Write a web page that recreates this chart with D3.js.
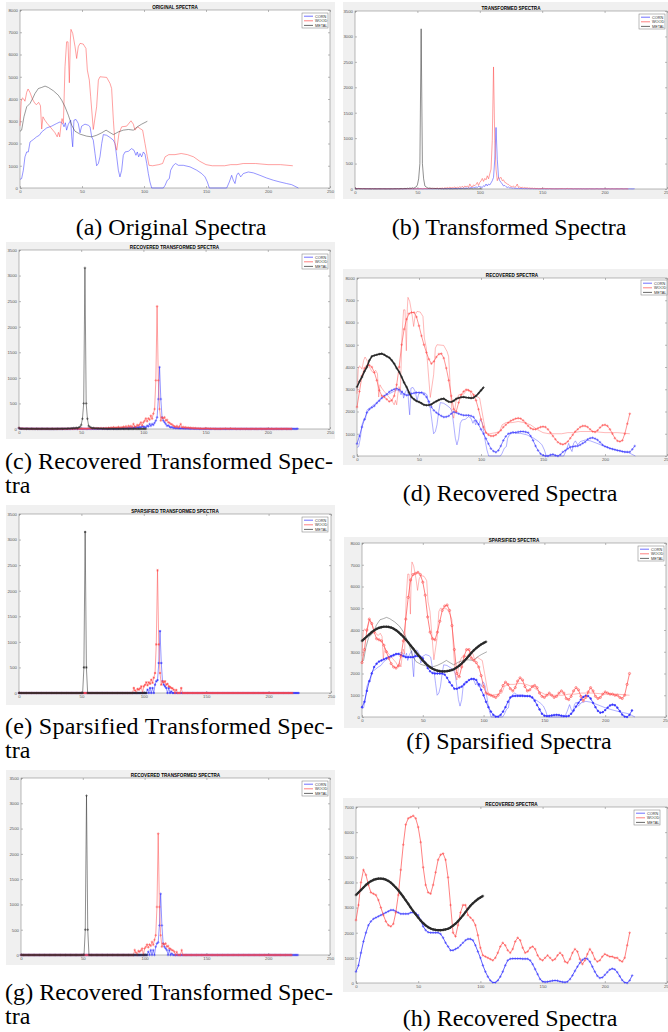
<!DOCTYPE html>
<html>
<head>
<meta charset="utf-8">
<script src="https://cdn.jsdelivr.net/npm/d3@7"></script>
<style>
  body { margin: 0; background: #fff; }
  svg { display: block; }
</style>
</head>
<body>
<div id="app"></div>
<script>
'use strict'

// ---- original spectra (irregular samples) ----
const origCornX = [0,1.3,2.7,4,5.4,6.7,8.1,10.8,13.4,15.6,17.5,21.5,25.5,29.6,32.3,34.4,35.5,36.6,37.6,39,
  40.9,41.7,42.5,43.5,45.2,47,48.4,49.7,52.4,55.1,56.5,57.8,59.1,60.5,61.8,63.2,64.5,65.9,67.2,69.9,
  72.6,75.3,76.6,78,79.3,80.6,82,83.3,84.7,87.4,90,91.9,93.5,94.6,95.7,96.8,98.1,99.5,100.8,102.2,
  103.5,104.8,106.2,115.6,117,118.8,120.4,121.5,123.7,125.5,127.7,131.7,137.1,142.5,146.5,149.2,151.1,152.7,166.7,168.8,
  170.7,172,173.4,174.7,176.1,178,180.1,184.1,188.2,193.5,198.9,204.3,209.7,215,219.1,221.8,224.5]
const origCornY = [390,420,800,1400,1620,1620,2070,2180,2300,2370,2520,2700,2780,2900,2970,2900,2750,2930,2600,2870,
  3050,2300,1850,3050,3080,2900,2480,2780,2870,2820,2750,2300,2150,1550,1000,1100,1400,2000,2400,2370,
  2270,2150,2000,1400,800,500,800,1470,1620,1650,1770,1700,1470,1620,1400,1550,1400,1620,1520,1100,
  650,270,0,0,120,350,420,800,1020,1100,1020,1020,950,800,650,500,270,0,0,270,
  570,350,200,570,680,500,650,720,680,570,450,350,270,200,150,75,0]

const origWoodX = [0,1,2,3,4,5.4,6.5,8,10,12,13.4,15,16.5,17.5,18.5,20,22,25,28,30,
  31,32,33,33.9,35,36.3,37.6,38.7,39.8,40.6,41.1,42.5,44.4,45.7,47,48.4,51,53.2,54.3,55.9,
  57,59.1,61.8,63.2,64.5,69.9,72.6,73.9,75.3,76.6,78,79.8,82,86,89.5,91.4,92.7,94.9,96.8,98.9,
  100.8,102.7,104,107,112,115,117,120,125,130,135,140,145,150,155,165,170,175,180,190,200,210,220]
const origWoodY = [2800,3900,4050,4000,3900,4300,4450,4300,4000,3800,3750,3850,3700,2650,3200,3050,2900,2700,2500,2300,
  2500,2300,2800,3120,2900,5450,6570,6570,4730,6650,7130,6950,6350,5820,6350,6500,6470,6270,5300,4850,
  4100,2630,3650,4850,5000,4970,4700,4470,3050,2000,1700,2450,2750,2780,3020,2870,2600,2750,2670,2600,
  2000,1400,1020,1000,1050,1100,1400,1500,1500,1550,1500,1400,1200,1050,1000,1000,1050,1050,1100,1100,1050,1050,1000]

const origMetalX = [0,1.3,3.2,5.4,8.1,10.2,12.1,14.8,17.5,20.2,22.8,26.9,30.9,33.6,36.3,39,41.7,44.4,48.4,53.8,
  57.8,61.8,65.9,69.4,72.6,75.3,79.3,83.3,87.4,91.4,94.6,98.1,102.7]
const origMetalY = [2550,2600,3200,3650,3800,4020,4250,4470,4520,4580,4520,4370,4170,3950,3650,3270,2820,2550,2420,2330,
  2300,2370,2480,2600,2490,2400,2520,2600,2630,2600,2750,2870,3000]

// ---- transformed spectra, one value per coefficient index ----
const cornT = [15,8,5,10,6,4,8,5,3,6, 5,4,6,3,5,4,3,5,4,3, 4,3,5,2,4,3,2,4,3,2, 3,5,2,4,3,2,5,3,2,4,
  3,2,4,6,3,5,4,2,6,3, 5,4,3,6,4,3,5,4,3,6, 4,5,3,6,4,7,5,4,8,5, 6,4,8,5,7,9,6,8,5,10,
  8,12,7,14,10,16,12,18,14,20, 15,25,18,30,22,35,28,40,30,50, 45,40,30,65,50,98,60,98,80,120,
  163,228,585,1210,585,228,163,130,98,60, 70,45,30,40,20,25,15,20,12,15, 10,14,8,12,7,10,6,9,5,8,
  6,5,7,4,6,3,5,4,3,5, 4,3,5,2,4,3,6,4,3,5, 3,4,2,5,3,4,2,3,5,3, 4,2,3,5,3,2,4,3,2,4,
  3,5,2,4,3,2,4,3,5,2, 3,4,2,3,5,3,2,4,3,2, 4,3,2,5,3,2,4,3,2,3, 4,2,3,5,3,2,4,3,2,3, 4,3,2,3,5]
const woodT = [20,10,6,12,5,8,4,10,6,5, 4,7,3,6,5,3,7,4,5,3, 5,3,6,4,3,5,4,6,3,4, 5,3,4,6,3,5,4,3,6,4,
  5,4,7,3,6,5,8,4,6,5, 7,5,9,6,4,8,10,6,12,8, 10,14,8,15,10,12,18,9,15,12, 20,10,25,15,30,18,35,20,30,25,
  40,20,35,28,45,30,55,25,60,40, 60,30,100,50,40,80,65,90,130,70, 130,160,208,150,208,180,260,200,300,390,
  950,2400,950,390,163,228,208,230,163,180, 130,120,98,90,65,50,40,60,30,50, 98,30,40,25,35,20,30,18,25,15,
  20,12,18,10,15,8,12,6,10,5, 15,8,12,5,10,6,8,4,6,3, 5,4,6,3,8,5,10,6,4,3, 12,6,8,4,6,3,5,4,3,5,
  3,4,2,5,3,4,2,3,5,3, 4,2,3,5,3,2,4,3,2,4, 3,5,2,4,3,2,4,3,5,2, 3,4,2,3,5,3,2,4,3,2]
const metalT = [20,8,6,5,4,6,3,5,4,3, 5,3,4,2,5,3,4,2,3,5, 3,4,2,5,3,2,4,3,2,5, 3,4,6,3,8,4,5,10,6,8,
  12,8,15,10,20,12,25,15,30,40, 80,200,500,3150,500,200,60,40,25,15, 20,10,15,8,12,6,10,5,8,4,
  6,3,5,4,3,5,2,4,3,2, 4,3,2,5,3,2,4,3,2,3, 4,2,3,5,3,2,4,3,2,3, 4,3,2]

// ---- sparsified coefficients (panels e and g) ----
const cornS = [0,0,0,0,0,0,0,0,0,0, 0,0,0,0,0,0,0,0,0,0, 0,0,0,0,0,0,0,0,0,0, 0,0,0,0,0,0,0,0,0,0,
  0,0,0,0,0,0,0,0,0,0, 0,0,0,0,0,0,0,0,0,0, 0,0,0,0,0,0,0,0,0,0, 0,0,0,0,0,0,0,0,0,0,
  0,0,0,0,0,0,0,0,0,0, 0,0,0,0,0,0,0,0,0,0, 0,0,0,65,0,98,0,98,0,163,
  228,250,585,1210,585,228,163,130,98,0, 98,0,30,0,0,0,0,0,0,0, 0,0,0,0,0,0,0,0,0,0,
  0,0,0,0,0,0,0,0,0,0, 0,0,0,0,0,0,0,0,0,0, 0,0,0,0,0,0,0,0,0,0, 0,0,0,0,0,0,0,0,0,0,
  0,0,0,0,0,0,0,0,0,0, 0,0,0,0,0,0,0,0,0,0, 0,0,0,0,0,0,0,0,0,0, 0,0,0,0,0,0,0,0,0,0, 0,0,0,0,0]
const woodS = [0,0,0,0,0,0,0,0,0,0, 0,0,0,0,0,0,0,0,0,0, 0,0,0,0,0,0,0,0,0,0, 0,0,0,0,0,0,0,0,0,0,
  0,0,0,0,0,0,0,0,0,0, 0,0,0,0,0,0,0,0,0,0, 0,0,0,0,0,0,0,0,0,0, 0,0,0,0,0,0,0,0,0,0,
  0,0,0,0,0,0,0,0,0,0, 0,0,100,50,0,80,65,90,130,0, 130,160,208,150,208,180,260,200,300,390,
  950,2400,950,390,163,228,208,230,163,180, 130,120,98,90,65,0,60,0,0,0, 98,0,0,0,0,0,0,0,0,0,
  0,0,0,0,0,0,0,0,0,0, 0,0,0,0,0,0,0,0,0,0, 0,0,0,0,0,0,0,0,0,0, 0,0,0,0,0,0,0,0,0,0,
  0,0,0,0,0,0,0,0,0,0, 0,0,0,0,0,0,0,0,0,0, 0,0,0,0,0,0,0,0,0,0, 0,0,0,0,0,0,0,0,0,0]
const metalS = [0,0,0,0,0,0,0,0,0,0, 0,0,0,0,0,0,0,0,0,0, 0,0,0,0,0,0,0,0,0,0, 0,0,0,0,0,0,0,0,0,0,
  0,0,0,0,0,0,0,0,0,0, 0,0,500,3150,500,0,0,0,0,0, 0,0,0,0,0,0,0,0,0,0,
  0,0,0,0,0,0,0,0,0,0, 0,0,0,0,0,0,0,0,0,0, 0,0,0,0,0,0,0,0,0,0, 0,0,0]

// ---- recovered spectra of panel d (every 2nd sample) ----
const cornD = [550,900,1300,1650,1950,2100,2180,2250,2380,2480, 2600,2700,2780,2880,2950,3000,3030,2980,2880,2780,
  2730,2750,2800,2830,2850,2850,2850,2780,2650,2450, 2200,2050,1950,1870,1800,1750,1760,1800,1900,1980,
  1950,1900,1860,1830,1830,1830,1800,1750,1580,1420, 1200,1000,780,550,330,220,170,250,450,700,
  880,1000,1030,1050,1060,1080,1100,1100,1080,1050, 900,700,450,250,100,30,0,0,50,75,
  30,0,60,180,250,330,400,420,440,450, 500,570,630,750,800,820,780,720,620,500,
  430,390,340,310,280,250,230,200,180,180, 180,300,450]
const woodD = [2200,2900,3600,3950,4050,4080,4000,3750,3400,2950, 2700,2650,2550,2450,2500,2700,3200,4000,5000,5700,
  6150,6400,6450,6450,6250,5850,5400,5000,4650,4350, 4150,4250,4450,4580,4600,4400,3950,3400,2700,2100,
  2000,2400,2750,2900,2980,2950,2900,2750,2500,2100, 1650,1300,1050,950,900,900,950,1050,1150,1300,
  1400,1500,1580,1630,1680,1700,1680,1600,1480,1350, 1250,1200,1200,1250,1300,1320,1300,1200,1050,900,
  750,620,550,520,560,650,800,950,1100,1200, 1300,1350,1350,1300,1200,1100,1080,1150,1280,1380,
  1400,1350,1200,1000,800,680,650,700,1000,1450, 1900]
const metalD = [3100,3350,3550,3800,4000,4300,4480,4520,4550,4580, 4600,4550,4480,4420,4300,4150,3950,3780,3550,3300,
  3100,2850,2650,2550,2470,2430,2370,2300,2280,2290, 2320,2400,2460,2520,2560,2580,2500,2440,2430,2480,
  2570,2610,2640,2650,2630,2620,2600,2620,2700,2820, 2950,3080]

// ---- smooth recovered spectra of panels f and h (every 2nd sample) ----
const cornH = [450,700,1200,1650,2000,2300,2450,2550,2600,2650, 2700,2750,2800,2850,2900,2900,2850,2800,2750,2750,
  2750,2750,2800,2800,2780,2700,2500,2250,2100,2020, 2000,2000,2000,2000,1950,1800,1600,1450,1300,1300,
  1350,1400,1500,1600,1700,1750,1750,1700,1500,1250, 1000,700,450,250,100,20,20,100,250,450,
  700,900,960,970,970,970,970,960,960,960, 900,750,550,350,150,60,40,50,70,90,
  100,90,60,40,30,50,150,300,480,650, 800,920,980,960,850,650,450,280,200,220,
  320,430,530,570,540,430,270,110,20,0, 100,300]
const woodH = [2500,3100,4000,4500,4300,3900,3600,3550,3500,3300, 3000,2700,2450,2300,2250,2350,2800,3500,4500,5500,
  6300,6550,6600,6650,6550,6200,5600,4600,3900,3600, 3550,3900,4400,4900,5100,5150,4900,4200,3100,2000,
  1850,2300,2800,3100,3100,2700,2600,2500,2300,1900, 1400,1100,1050,1000,950,900,1000,1200,1450,1600,
  1500,1300,1200,1350,1650,1800,1700,1400,1200,1250, 1400,1450,1350,1100,950,900,1000,1100,1000,900,
  950,1100,1200,1100,850,800,950,1200,1350,1250, 950,750,900,1150,1350,1200,950,850,900,1050,
  1150,1100,1050,1050,1000,1000,900,850,1000,1500, 2000]
const metalH = [3500,3600,3700,3800,3900,3980,4050,4100,4130,4150, 4150,4140,4110,4060,3990,3900,3800,3690,3560,3430,
  3290,3150,3000,2860,2730,2600,2480,2380,2290,2220, 2170,2130,2110,2100,2100,2110,2130,2160,2210,2280,
  2360,2460,2570,2690,2820,2950,3070,3170,3260,3340, 3400,3460]

const xTicks = [0, 50, 100, 150, 200, 250]
const names = ['CORN', 'WOOD', 'METAL']
const colors = ['#3434ff', '#ff4a4a', '#2a2a2a']
const captions = [
  { text: ['(a) Original Spectra'], x: 171, y: 235, anchor: 'middle' },
  { text: ['(b) Transformed Spectra'], x: 509, y: 235, anchor: 'middle' },
  { text: ['(c) Recovered Transformed Spec-', 'tra'], x: 5, y: 469, anchor: 'start' },
  { text: ['(d) Recovered Spectra'], x: 510, y: 501, anchor: 'middle' },
  { text: ['(e) Sparsified Transformed Spec-', 'tra'], x: 5, y: 734, anchor: 'start' },
  { text: ['(f) Sparsified Spectra'], x: 509, y: 749, anchor: 'middle' },
  { text: ['(g) Recovered Transformed Spec-', 'tra'], x: 5, y: 1000, anchor: 'start' },
  { text: ['(h) Recovered Spectra'], x: 510, y: 1026, anchor: 'middle' }
]

const sans = "'Liberation Sans', Arial, sans-serif"
const svg = d3.select('#app').append('svg')
  .attr('width', 668)
  .attr('height', 1032)

const plus = 'M-1.3,0H1.3M0,-1.3V1.3'
const star = 'M-1.2,0H1.2M0,-1.2V1.2M-0.85,-0.85L0.85,0.85M-0.85,0.85L0.85,-0.85'
const dot = 'M-0.9,0A0.9,0.9 0 1,0 0.9,0A0.9,0.9 0 1,0 -0.9,0'
const ring = 'M-1.1,0A1.1,1.1 0 1,0 1.1,0A1.1,1.1 0 1,0 -1.1,0'

/*
 * One MATLAB style axes: grey figure background, white box,
 * inward ticks on all four sides, title and legend.
 */
function panel (p) {
  const g = svg.append('g')
  const [L, T, R, B] = p.ax
  g.append('rect')
    .attr('x', p.bg[0]).attr('y', p.bg[1])
    .attr('width', p.bg[2] - p.bg[0]).attr('height', p.bg[3] - p.bg[1])
    .attr('fill', '#f0f0f0')
  g.append('rect')
    .attr('x', L).attr('y', T).attr('width', R - L).attr('height', B - T)
    .attr('fill', '#fff')

  const x = d3.scaleLinear().domain([0, 250]).range([L, R])
  const y = d3.scaleLinear().domain([0, p.yMax]).range([B, T])
  const yTicks = d3.range(0, p.yMax + 1, p.yMax === 3500 ? 500 : 1000)

  const style = sel => {
    sel.select('.domain').remove()
    sel.selectAll('line').attr('stroke', '#777').attr('stroke-width', 0.5)
    sel.selectAll('text').attr('font-size', 4.3).attr('font-family', sans).attr('fill', '#555')
  }
  g.append('g').attr('transform', `translate(0,${B})`)
    .call(d3.axisBottom(x).tickValues(xTicks).tickSizeInner(-2).tickSizeOuter(0).tickPadding(2).tickFormat(d3.format('d'))).call(style)
  g.append('g').attr('transform', `translate(0,${T})`)
    .call(d3.axisTop(x).tickValues(xTicks).tickSizeInner(-2).tickSizeOuter(0).tickFormat('')).call(style)
  g.append('g').attr('transform', `translate(${L},0)`)
    .call(d3.axisLeft(y).tickValues(yTicks).tickSizeInner(-2).tickSizeOuter(0).tickPadding(2).tickFormat(d3.format('d'))).call(style)
  g.append('g').attr('transform', `translate(${R},0)`)
    .call(d3.axisRight(y).tickValues(yTicks).tickSizeInner(-2).tickSizeOuter(0).tickFormat('')).call(style)

  g.append('rect')
    .attr('x', L).attr('y', T).attr('width', R - L).attr('height', B - T)
    .attr('fill', 'none').attr('stroke', '#8a8a8a').attr('stroke-width', 0.6)

  g.append('text')
    .attr('x', (L + R) / 2).attr('y', T - 1.5)
    .attr('text-anchor', 'middle')
    .attr('font-family', sans).attr('font-size', 4.6).attr('font-weight', 'bold')
    .text(p.title)

  const plot = g.append('g')
  const lg = g.append('g').attr('transform', `translate(${p.legend[0]},${p.legend[1]})`)
  lg.append('rect').attr('width', 26).attr('height', 15)
    .attr('fill', '#fff').attr('stroke', '#777').attr('stroke-width', 0.5)
  names.forEach((n, i) => {
    const ly = 3.2 + i * 4.6
    lg.append('line').attr('x1', 2).attr('x2', 11).attr('y1', ly).attr('y2', ly)
      .attr('stroke', colors[i]).attr('stroke-width', 0.7)
    lg.append('text').attr('x', 13).attr('y', ly + 1.3)
      .attr('font-family', sans).attr('font-size', 3.8).attr('fill', '#333')
      .text(n)
  })
  return { g: plot, x, y }
}

function series (p, xs, ys, o) {
  const pts = ys.map((v, i) => [xs[i], v])
  p.g.append('path').datum(pts)
    .attr('fill', 'none')
    .attr('stroke', o.color)
    .attr('stroke-width', o.width || 0.7)
    .attr('stroke-opacity', o.opacity || 1)
    .attr('stroke-linejoin', 'round')
    .attr('d', d3.line().x(d => p.x(d[0])).y(d => p.y(d[1])))
  if (!o.marker) return
  p.g.append('g').selectAll('path').data(pts).join('path')
    .attr('transform', d => `translate(${p.x(d[0])},${p.y(d[1])})`)
    .attr('d', o.marker)
    .attr('fill', o.fill ? o.color : 'none')
    .attr('stroke', o.color)
    .attr('stroke-width', o.mw || 0.5)
}

const idx = arr => d3.range(arr.length)
const step2 = arr => arr.map((v, i) => i * 2)

// (a) original spectra
const pa = panel({ bg: [6, 2, 335, 199], ax: [20, 10, 330, 188], yMax: 8000, title: 'ORIGINAL SPECTRA', legend: [302, 13] })
series(pa, origCornX, origCornY, { color: colors[0], width: 0.8, opacity: 0.65 })
series(pa, origWoodX, origWoodY, { color: colors[1], width: 0.8, opacity: 0.65 })
series(pa, origMetalX, origMetalY, { color: colors[2], width: 0.8, opacity: 0.6 })

// (b) transformed spectra
const pb = panel({ bg: [343, 2, 668, 199], ax: [355, 11, 667, 189], yMax: 3500, title: 'TRANSFORMED SPECTRA', legend: [639, 14] })
series(pb, idx(cornT), cornT, { color: colors[0], opacity: 0.75 })
series(pb, idx(woodT), woodT, { color: colors[1], opacity: 0.75 })
series(pb, idx(metalT), metalT, { color: colors[2], opacity: 0.75 })

// (c) recovered transformed spectra
const pc = panel({ bg: [6, 242, 335, 439], ax: [19, 250, 330, 429], yMax: 3500, title: 'RECOVERED TRANSFORMED SPECTRA', legend: [302, 254] })
series(pc, idx(cornT), cornT, { color: colors[0], opacity: 0.75, marker: plus })
series(pc, idx(woodT), woodT, { color: colors[1], opacity: 0.75, marker: plus })
series(pc, idx(metalT), metalT, { color: colors[2], opacity: 0.75, marker: plus })

// (d) recovered spectra
const pd = panel({ bg: [343, 269, 668, 465], ax: [357, 278, 667, 456], yMax: 8000, title: 'RECOVERED SPECTRA', legend: [641, 280] })
series(pd, origCornX, origCornY, { color: colors[0], width: 0.6, opacity: 0.65 })
series(pd, origWoodX, origWoodY, { color: colors[1], width: 0.6, opacity: 0.65 })
series(pd, step2(cornD), cornD, { color: colors[0], width: 0.6, marker: plus })
series(pd, step2(woodD), woodD, { color: colors[1], width: 0.6, marker: plus })
series(pd, step2(metalD), metalD, { color: colors[2], width: 1.6, marker: plus, mw: 0.6 })

// (e) sparsified transformed spectra
const pe = panel({ bg: [6, 505, 335, 705], ax: [19, 514, 331, 693], yMax: 3500, title: 'SPARSIFIED TRANSFORMED SPECTRA', legend: [302, 517] })
series(pe, idx(cornS), cornS, { color: colors[0], opacity: 0.75, marker: star })
series(pe, idx(woodS), woodS, { color: colors[1], opacity: 0.75, marker: star })
series(pe, idx(metalS), metalS, { color: colors[2], opacity: 0.75, marker: star })

// (f) sparsified spectra
const pf = panel({ bg: [344, 537, 668, 728], ax: [362, 543, 666, 717], yMax: 8000, title: 'SPARSIFIED SPECTRA', legend: [638, 546] })
series(pf, origCornX, origCornY, { color: colors[0], width: 0.6, opacity: 0.65 })
series(pf, origWoodX, origWoodY, { color: colors[1], width: 0.6, opacity: 0.65 })
series(pf, origMetalX, origMetalY, { color: colors[2], width: 0.6, opacity: 0.65 })
series(pf, step2(cornH), cornH, { color: colors[0], width: 0.8, marker: dot, fill: true })
series(pf, step2(woodH), woodH, { color: colors[1], width: 0.7, marker: ring, mw: 0.6 })
series(pf, step2(metalH), metalH, { color: colors[2], width: 2.2, marker: plus, mw: 0.8 })

// (g) recovered transformed spectra
const pg = panel({ bg: [6, 770, 335, 965], ax: [21, 778, 330, 955], yMax: 3500, title: 'RECOVERED TRANSFORMED SPECTRA', legend: [302, 781] })
series(pg, idx(cornS), cornS, { color: colors[0], opacity: 0.75, marker: plus })
series(pg, idx(woodS), woodS, { color: colors[1], opacity: 0.75, marker: plus })
series(pg, idx(metalS), metalS, { color: colors[2], opacity: 0.75, marker: plus })

// (h) recovered spectra
const ph = panel({ bg: [343, 798, 668, 992], ax: [356, 807, 667, 983], yMax: 7000, title: 'RECOVERED SPECTRA', legend: [634, 810] })
series(ph, step2(cornH), cornH, { color: colors[0], width: 0.8, marker: plus })
series(ph, step2(woodH), woodH, { color: colors[1], width: 0.7, marker: plus })
series(ph, step2(metalH), metalH, { color: colors[2], width: 2.2, marker: plus, mw: 0.8 })

// sub-figure captions
captions.forEach(c => {
  c.text.forEach((line, i) => {
    const t = svg.append('text')
      .attr('x', c.x).attr('y', c.y + i * 24)
      .attr('text-anchor', c.anchor)
      .attr('font-family', "'Liberation Serif', 'Times New Roman', serif")
      .attr('font-size', 24)
      .text(line)
    if (c.text.length > 1 && i === 0) t.attr('textLength', 328).attr('lengthAdjust', 'spacing')
  })
})
</script>
</body>
</html>
